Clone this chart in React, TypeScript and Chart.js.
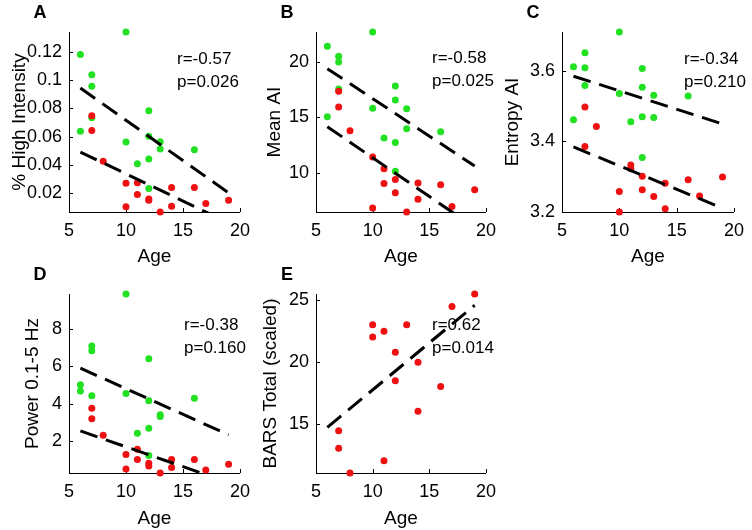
import React, { useEffect, useRef } from "react";
import { Chart, registerables } from "chart.js";

Chart.register(...registerables);

const FONT = "'Liberation Sans', Arial, Helvetica, sans-serif";
const GREEN = "#22e022";
const RED = "#ee1111";

// Ages of the two groups
const AGE_GREEN = [6, 6, 7, 7, 7, 10, 10, 11, 12, 12, 12, 12, 13, 13, 16];
const AGE_RED = [7, 7, 8, 10, 10, 11, 11, 12, 12, 13, 14, 14, 16, 17, 19];

// Panel A: % High Intensity
const HI_GREEN = [0.1183, 0.0638, 0.104, 0.0957, 0.0733, 0.1343, 0.0562, 0.0407, 0.0783, 0.0602, 0.044, 0.0231, 0.0564, 0.0512, 0.0507];
const HI_RED = [0.0748, 0.0643, 0.0424, 0.0269, 0.0102, 0.0271, 0.0188, 0.0157, 0.0148, 0.0064, 0.0238, 0.0105, 0.0238, 0.0124, 0.0148];
// Panel B: Mean AI
const MEANAI_GREEN = [21.42, 15.06, 20.52, 20.0, 17.55, 22.7, 15.82, 13.12, 17.82, 16.55, 12.73, 10.12, 15.76, 13.97, 13.7];
const MEANAI_RED = [17.36, 15.94, 13.79, 11.42, 6.82, 10.36, 9.03, 9.39, 8.18, 6.45, 9.06, 7.6, 8.9, 6.94, 8.45];
// Panel C: Entropy AI
const ENT_GREEN = [3.611, 3.461, 3.65, 3.608, 3.558, 3.709, 3.535, 3.455, 3.606, 3.553, 3.469, 3.354, 3.53, 3.467, 3.528];
const ENT_RED = [3.497, 3.385, 3.442, 3.258, 3.2, 3.333, 3.322, 3.301, 3.263, 3.244, 3.281, 3.209, 3.291, 3.245, 3.299];
// Panel D: Power 0.1-5 Hz
const POW_GREEN = [5.02, 4.68, 7.09, 6.84, 4.43, 9.875, 4.55, 2.43, 6.41, 4.16, 2.7, 1.23, 3.41, 3.32, 4.3];
const POW_RED = [3.77, 3.2, 2.32, 1.29, 0.52, 1.57, 1.02, 0.82, 0.68, 0.3, 1.02, 0.59, 1.02, 0.46, 0.77];
// Panel E: BARS Total (scaled)
const BARS_RED = [14.46, 13.05, 11.05, 23.03, 22.03, 22.51, 12.03, 20.81, 18.51, 23.03, 20.0, 16.03, 18.03, 24.51, 25.51];

// Fitted dashed lines, values at FIT_X
const FIT_X = [6, 19];
const HI_FIT_GREEN = [0.0945, 0.02];
const HI_FIT_RED = [0.049, -0.0013];
const MEANAI_FIT_GREEN = [19.39, 10.6];
const MEANAI_FIT_RED = [14.15, 5.05];
const ENT_FIT_GREEN = [3.584, 3.449];
const ENT_FIT_RED = [3.384, 3.211];
const POW_FIT_GREEN = [5.91, 2.34];
const POW_FIT_RED = [2.55, -0.21];
const BARS_FIT_RED = [14.73, 24.6];

// Ticks
const X_TICKS = [5, 10, 15, 20];
const HI_TICKS = [0.02, 0.04, 0.06, 0.08, 0.1, 0.12];
const HI_TICK_LABELS = ["0.02", "0.04", "0.06", "0.08", "0.1", "0.12"];
const MEANAI_TICKS = [10, 15, 20];
const ENT_TICKS = [3.2, 3.4, 3.6];
const ENT_TICK_LABELS = ["3.2", "3.4", "3.6"];
const POW_TICKS = [2, 4, 6, 8];
const BARS_TICKS = [15, 20, 25];

type Box = { x: number; y: number; w: number; h: number };
type Area = { l: number; t: number; r: number; b: number };
type PanelCfg = {
  letter: string;
  yLabel: string;
  canvas: Box;
  area: Area;
  green?: number[];
  red: number[];
  fitGreen?: number[];
  fitRed: number[];
  yTicks: number[];
  yTickLabels?: string[];
  r: string;
  p: string;
  titlePad: number;
  annot: { dx: number; dy: number };
};

const PANELS: PanelCfg[] = [
  {
    letter: "A", yLabel: "% High Intensity",
    canvas: { x: 0, y: 0, w: 258, h: 268 }, area: { l: 69, t: 32, r: 242, b: 212 },
    green: HI_GREEN, red: HI_RED, fitGreen: HI_FIT_GREEN, fitRed: HI_FIT_RED,
    yTicks: HI_TICKS, yTickLabels: HI_TICK_LABELS, r: "r=-0.57", p: "p=0.026",
    titlePad: 8, annot: { dx: 108, dy: 27 },
  },
  {
    letter: "B", yLabel: "Mean AI",
    canvas: { x: 252, y: 0, w: 252, h: 268 }, area: { l: 316, t: 32, r: 489, b: 212 },
    green: MEANAI_GREEN, red: MEANAI_RED, fitGreen: MEANAI_FIT_GREEN, fitRed: MEANAI_FIT_RED,
    yTicks: MEANAI_TICKS, r: "r=-0.58", p: "p=0.025",
    titlePad: 11, annot: { dx: 116, dy: 26 },
  },
  {
    letter: "C", yLabel: "Entropy AI",
    canvas: { x: 498, y: 0, w: 254, h: 268 }, area: { l: 562, t: 32, r: 738, b: 212 },
    green: ENT_GREEN, red: ENT_RED, fitGreen: ENT_FIT_GREEN, fitRed: ENT_FIT_RED,
    yTicks: ENT_TICKS, yTickLabels: ENT_TICK_LABELS, r: "r=-0.34", p: "p=0.210",
    titlePad: 3, annot: { dx: 122, dy: 27 },
  },
  {
    letter: "D", yLabel: "Power 0.1-5 Hz",
    canvas: { x: 0, y: 262, w: 258, h: 268 }, area: { l: 69, t: 294, r: 242, b: 473 },
    green: POW_GREEN, red: POW_RED, fitGreen: POW_FIT_GREEN, fitRed: POW_FIT_RED,
    yTicks: POW_TICKS, r: "r=-0.38", p: "p=0.160",
    titlePad: 21, annot: { dx: 115, dy: 31 },
  },
  {
    letter: "E", yLabel: "BARS Total (scaled)",
    canvas: { x: 252, y: 262, w: 252, h: 268 }, area: { l: 316, t: 294, r: 489, b: 473 },
    red: BARS_RED, fitRed: BARS_FIT_RED,
    yTicks: BARS_TICKS, r: "r=0.62", p: "p=0.014",
    titlePad: 7, annot: { dx: 116, dy: 31 },
  },
];

function Panel({ cfg }: { cfg: PanelCfg }) {
  const ref = useRef<HTMLCanvasElement>(null);
  useEffect(() => {
    const el = ref.current;
    if (!el) return;
    const { canvas, area } = cfg;
    const all = [...(cfg.green || []), ...cfg.red];
    const yMin = Math.min(...all);
    const yMax = Math.max(...all);
    const fitLine = (vals: number[]) => ({
      data: FIT_X.map((x, i) => ({ x, y: vals[i] })),
      showLine: true,
      borderColor: "#000",
      borderWidth: 3,
      borderDash: [18, 9],
      borderCapStyle: "butt",
      pointRadius: 0,
      fill: false,
    });
    const scatter = (ages: number[], vals: number[], color: string) => ({
      data: ages.map((x, i) => ({ x, y: vals[i] })),
      showLine: false,
      pointRadius: 3.5,
      pointBorderWidth: 0,
      pointBackgroundColor: color,
      backgroundColor: color,
      borderColor: color,
      clip: false as any,
    });
    const datasets: any[] = [];
    if (cfg.fitGreen) datasets.push(fitLine(cfg.fitGreen));
    datasets.push(fitLine(cfg.fitRed));
    datasets.push(scatter(AGE_RED, cfg.red, RED));
    if (cfg.green) datasets.push(scatter(AGE_GREEN, cfg.green, GREEN));

    const extras = {
      id: "extras",
      beforeDatasetsDraw(chart: any) {
        const { ctx, chartArea: a, scales } = chart;
        ctx.save();
        ctx.strokeStyle = "#000";
        ctx.lineWidth = 1;
        ctx.beginPath();
        for (const t of scales.x.ticks) {
          const px = Math.round(scales.x.getPixelForValue(t.value)) + 0.5;
          ctx.moveTo(px, a.bottom);
          ctx.lineTo(px, a.bottom - 4);
        }
        for (const t of scales.y.ticks) {
          const py = Math.round(scales.y.getPixelForValue(t.value)) + 0.5;
          ctx.moveTo(a.left, py);
          ctx.lineTo(a.left + 4, py);
        }
        ctx.stroke();
        ctx.restore();
      },
      afterDraw(chart: any) {
        const { ctx, chartArea: a } = chart;
        ctx.save();
        ctx.fillStyle = "#000";
        ctx.textBaseline = "middle";
        ctx.textAlign = "left";
        ctx.font = `17px ${FONT}`;
        ctx.fillText(cfg.r, a.left + cfg.annot.dx, a.top + cfg.annot.dy);
        ctx.fillText(cfg.p, a.left + cfg.annot.dx, a.top + cfg.annot.dy + 23);
        ctx.textAlign = "center";
        ctx.font = `bold 18px ${FONT}`;
        ctx.fillText(cfg.letter, a.left - 29, a.top - 19);
        ctx.restore();
      },
    };

    const tickFont = { family: FONT, size: 18 };
    const titleFont = { family: FONT, size: 19 };
    const chart = new Chart(el, {
      type: "scatter",
      data: { datasets },
      options: {
        animation: false,
        responsive: false,
        devicePixelRatio: 1,
        events: [],
        layout: {
          padding: {
            left: 0,
            top: area.t - canvas.y,
            right: canvas.x + canvas.w - area.r,
            bottom: 0,
          },
        },
        plugins: { legend: { display: false }, tooltip: { enabled: false } },
        scales: {
          x: {
            type: "linear",
            min: 5,
            max: 20,
            afterBuildTicks: (s: any) => {
              s.ticks = X_TICKS.map((v) => ({ value: v }));
            },
            afterFit: (s: any) => {
              s.height = canvas.y + canvas.h - area.b;
            },
            ticks: { font: tickFont, color: "#000", padding: 8, maxRotation: 0, autoSkip: false },
            grid: { display: true, drawOnChartArea: false, drawTicks: false },
            border: { display: true, color: "#000", width: 1 },
            title: { display: true, text: "Age", font: titleFont, color: "#000", padding: { top: 0, bottom: 0 } },
          },
          y: {
            type: "linear",
            min: yMin,
            max: yMax,
            afterBuildTicks: (s: any) => {
              s.ticks = cfg.yTicks.map((v) => ({ value: v }));
            },
            afterFit: (s: any) => {
              s.width = area.l - canvas.x;
            },
            ticks: {
              font: tickFont,
              color: "#000",
              padding: 7,
              autoSkip: false,
              callback: (v: any, i: number) => (cfg.yTickLabels ? cfg.yTickLabels[i] : String(cfg.yTicks[i])),
            },
            grid: { display: true, drawOnChartArea: false, drawTicks: false },
            border: { display: true, color: "#000", width: 1 },
            title: { display: true, text: cfg.yLabel, font: titleFont, color: "#000", padding: { top: cfg.titlePad, bottom: 0 } },
          },
        },
      },
      plugins: [extras],
    } as any);
    return () => chart.destroy();
  }, [cfg]);
  const { canvas } = cfg;
  return (
    <canvas
      ref={ref}
      width={canvas.w}
      height={canvas.h}
      style={{ position: "absolute", left: canvas.x, top: canvas.y, width: canvas.w, height: canvas.h }}
    />
  );
}

export default function App() {
  return (
    <div style={{ position: "absolute", left: 0, top: 0, width: 752, height: 530, background: "#fff", overflow: "hidden" }}>
      {PANELS.map((p) => (
        <Panel key={p.letter} cfg={p} />
      ))}
    </div>
  );
}
